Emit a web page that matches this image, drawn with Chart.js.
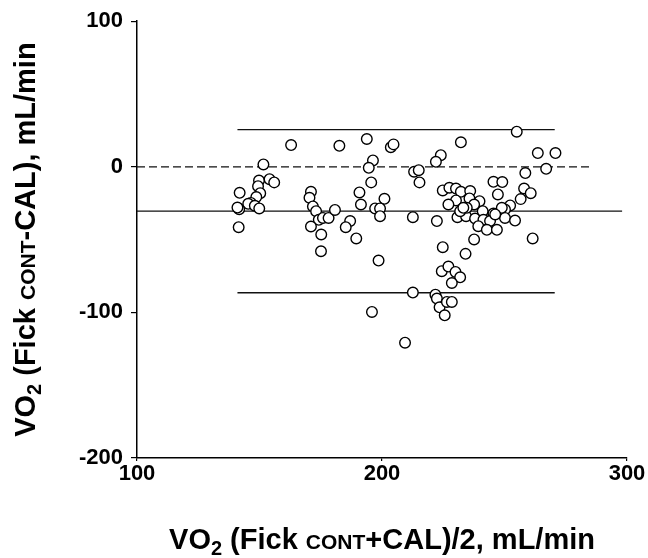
<!DOCTYPE html>
<html>
<head>
<meta charset="utf-8">
<script src="https://cdn.jsdelivr.net/npm/chart.js@4"></script>
<style>
  html, body { margin: 0; padding: 0; background: #fff; }
  #wrap { width: 648px; height: 558px; }
</style>
</head>
<body>
<div id="wrap"><canvas id="baChart" width="648" height="558"></canvas></div>
<script>
// mean of the two methods (x) and their difference (y), mL/min
const meanValues = [
  162.9, 151.6, 149.8, 154.1, 156.0, 149.4, 141.9, 150.3, 148.7, 146.5,
  145.4, 148.1, 149.9, 141.7, 141.0, 141.5, 171.0, 170.4, 171.8, 173.1,
  174.2, 175.9, 178.2, 171.0, 175.2, 175.1,
  193.8, 182.6, 203.6, 204.7, 232.2, 196.3, 194.6, 224.0, 222.0, 213.1,
  215.0, 215.3, 195.6, 190.8, 191.4, 201.0, 197.2, 199.2, 199.2, 180.8,
  187.0, 185.2, 189.5, 212.6, 222.4, 198.6, 224.8, 227.5, 230.2, 232.2,
  230.2, 227.1, 230.8, 234.3, 224.8, 234.1, 224.4, 227.1, 230.0, 231.9,
  228.5, 212.6, 221.8, 222.4, 223.5, 226.5, 228.5, 225.6, 195.9, 209.4,
  255.0, 263.6, 270.8, 267.0, 258.5, 245.5, 249.1, 247.3, 258.0, 260.7,
  256.6, 252.3, 250.2, 236.0, 239.8, 235.7, 237.6, 234.6, 231.9, 238.0,
  241.1, 245.5, 241.4, 244.1, 239.3, 242.8, 246.9, 250.2, 254.3, 237.6,
  261.5, 233.2, 248.9, 246.2
];
const diffValues = [
  14.9, 1.6, -9.4, -8.5, -10.7, -13.3, -17.9, -18.1, -20.8, -24.8,
  -25.4, -26.8, -28.6, -29.1, -28.0, -41.5, -17.2, -21.3, -27.2, -30.5,
  -36.4, -35.1, -35.1, -41.0, -46.5, -58.0,
  19.1, 14.4, 13.5, 15.4, 16.8, 4.4, -0.7, 8.0, 3.4, -3.4,
  -2.3, -10.7, -10.7, -17.6, -25.9, -22.0, -28.6, -28.6, -33.9, -29.6,
  -37.3, -41.5, -49.2, -34.6, -37.3, -64.4, -16.2, -14.4, -14.9, -17.2,
  -23.1, -25.9, -34.6, -33.9, -55.2, -59.8, -71.7, -68.5, -72.2, -75.9,
  -79.8, -86.4, -87.8, -90.5, -96.5, -92.8, -92.8, -102.0, -99.7, -120.8,
  24.1, 9.4, 9.4, -1.4, -4.3, -10.3, -10.5, -19.0, -14.9, -18.1,
  -22.2, -26.5, -29.3, -16.7, -23.6, -21.7, -25.9, -28.2, -30.5, -35.5,
  -30.5, -32.1, -36.4, -37.3, -40.8, -43.3, -43.3, -35.1, -36.9, -49.9,
  -49.2, -28.2, -28.2, -32.7
];

// reference lines: bias, limits of agreement, zero
const biasValue = -30.5;
const upperLimit = 25.5;
const lowerLimit = -86.5;
const limitRange = [141, 270.5];
const biasRange = [100, 298];
const zeroRange = [100, 285];

const xTicks = [100, 200, 300];
const yTicks = [-200, -100, 0, 100];

const FONT = "'Liberation Sans', Arial, Helvetica, sans-serif";

const points = meanValues.map((x, i) => ({ x: x, y: diffValues[i] }));
const hLine = (range, y) => range.map(x => ({ x: x, y: y }));

// axis titles with subscript and small caps
function drawParts(ctx, parts, x, y) {
  let total = 0;
  parts.forEach(p => {
    ctx.font = 'bold ' + p.size + 'px ' + FONT;
    p.w = ctx.measureText(p.text).width;
    total += p.w;
  });
  let cx = x - total / 2;
  parts.forEach(p => {
    ctx.font = 'bold ' + p.size + 'px ' + FONT;
    ctx.fillText(p.text, cx, y + (p.dy || 0));
    cx += p.w;
  });
}

const titlePlugin = {
  id: 'titles',
  afterDraw(chart) {
    const ctx = chart.ctx;
    const area = chart.chartArea;
    ctx.save();
    ctx.fillStyle = '#000';
    ctx.textAlign = 'left';
    ctx.textBaseline = 'alphabetic';
    drawParts(ctx, [
      { text: 'VO', size: 29 },
      { text: '2', size: 20, dy: 6 },
      { text: ' (Fick ', size: 29 },
      { text: 'CONT', size: 21 },
      { text: '+CAL)/2, mL/min', size: 29 }
    ], (area.left + area.right) / 2, 549);

    ctx.translate(35, (area.top + area.bottom) / 2);
    ctx.rotate(-Math.PI / 2);
    drawParts(ctx, [
      { text: 'VO', size: 29 },
      { text: '2', size: 20, dy: 6 },
      { text: ' (Fick ', size: 29 },
      { text: 'CONT', size: 21 },
      { text: '-CAL), mL/min', size: 29 }
    ], 0, 0);
    ctx.restore();
  }
};

const lineStyle = {
  type: 'line',
  showLine: true,
  borderColor: '#111',
  borderWidth: 1.3,
  pointRadius: 0,
  fill: false,
  order: 2
};

new Chart(document.getElementById('baChart'), {
  type: 'scatter',
  data: {
    datasets: [
      {
        label: 'Differences',
        data: points,
        pointRadius: 5.3,
        pointBorderWidth: 1.4,
        pointBorderColor: '#000',
        pointBackgroundColor: '#fff',
        order: 0
      },
      Object.assign({ label: 'Zero', data: hLine(zeroRange, 0), borderDash: [8, 4] }, lineStyle),
      Object.assign({ label: 'Bias', data: hLine(biasRange, biasValue) }, lineStyle),
      Object.assign({ label: 'Upper limit', data: hLine(limitRange, upperLimit) }, lineStyle),
      Object.assign({ label: 'Lower limit', data: hLine(limitRange, lowerLimit) }, lineStyle)
    ]
  },
  options: {
    responsive: false,
    animation: false,
    events: [],
    layout: { padding: { top: 20, right: 21, left: 0, bottom: 0 } },
    plugins: {
      legend: { display: false },
      tooltip: { enabled: false }
    },
    scales: {
      x: {
        type: 'linear',
        min: 100,
        max: 300,
        afterBuildTicks: axis => { axis.ticks = xTicks.map(v => ({ value: v })); },
        afterFit: axis => { axis.height = 100; },
        border: { display: true, color: '#000', width: 1.5 },
        grid: { display: true, drawOnChartArea: false, drawTicks: true, tickLength: 3, color: '#000', lineWidth: 1.2 },
        ticks: {
          color: '#000',
          padding: 0,
          maxRotation: 0,
          font: { family: FONT, size: 22, weight: 'bold' }
        }
      },
      y: {
        type: 'linear',
        min: -200,
        max: 100,
        afterBuildTicks: axis => { axis.ticks = yTicks.map(v => ({ value: v })); },
        afterFit: axis => { axis.width = 137; },
        border: { display: true, color: '#000', width: 1.5 },
        grid: { display: true, drawOnChartArea: false, drawTicks: true, tickLength: 6, color: '#000', lineWidth: 1.2 },
        ticks: {
          color: '#000',
          padding: 8,
          font: { family: FONT, size: 22, weight: 'bold' }
        }
      }
    }
  },
  plugins: [titlePlugin]
});
</script>
</body>
</html>
